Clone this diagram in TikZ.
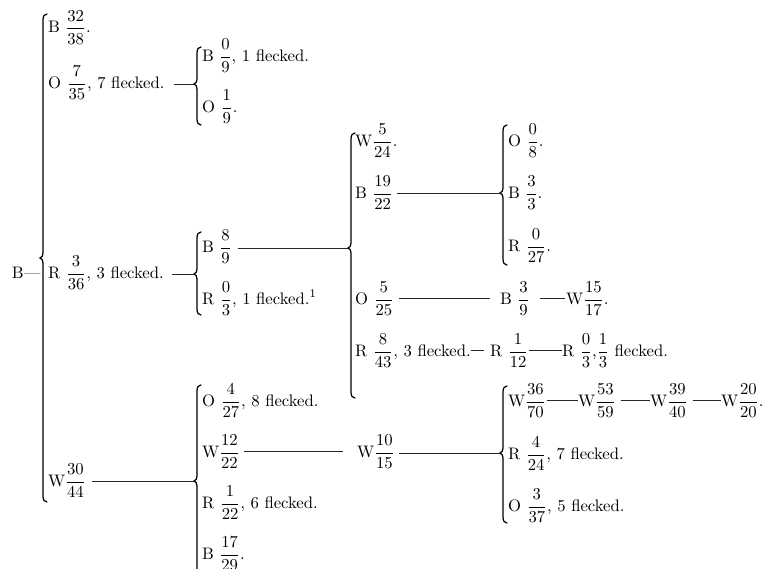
\documentclass[tikz,border=0pt]{standalone}
\usepackage{amsmath}
\tikzset{
  lab/.style={anchor=base west, inner sep=0pt, outer sep=0pt},
  conn/.style={line width=0.45pt, draw=black!85},
  bracestyle/.style={line width=0.75pt, line cap=round},
}
\newcommand{\fr}[2]{$\dfrac{#1}{#2}$}
\newcommand{\curlybrace}[5]{%
  \coordinate (#1) at (#2-3,#4);
  \draw[bracestyle] (#2+4,#3) .. controls (#2+1.5,#3) and (#2,#3+2) .. (#2,#3+6)
    -- (#2,#4-5) .. controls (#2,#4-2) and (#2-1,#4-0.8) .. (#2-3,#4)
    .. controls (#2-1,#4+0.8) and (#2,#4+2) .. (#2,#4+5)
    -- (#2,#5-6) .. controls (#2,#5-2) and (#2+1.5,#5) .. (#2+4,#5);
}
\begin{document}
\begin{tikzpicture}[x=0.6pt,y=-0.6pt]
\useasboundingbox (0,0) rectangle (764,568);
\clip (0,0) rectangle (764,568);
% root
\node[lab] (root) at (12,278) {B\textemdash};
\curlybrace{bR}{43}{14}{258}{502}
% level 1
\node[lab] (b1) at (48,33) {B \fr{32}{38}.};
\node[lab] (o1) at (48,88) {O \fr{7}{35}, 7 flecked.};
\node[lab] (r1) at (48,278) {R \fr{3}{36}, 3 flecked.};
\node[lab] (w1) at (48,486) {W\fr{30}{44}};
% O group
\curlybrace{bO}{197}{47}{84}{125}
\draw[conn] ([xshift=6pt]o1.east |- bO) -- (bO);
\node[lab] (b2) at (202,61) {B \fr{0}{9}, 1 flecked.};
\node[lab] (o2) at (202,112) {O \fr{1}{9}.};
% R group
\curlybrace{bRR}{197}{232}{274}{315}
\draw[conn] ([xshift=5pt]r1.east |- bRR) -- (bRR);
\node[lab] (b3) at (202,252) {B \fr{8}{9}};
\node[lab] (r2) at (202,304) {R \fr{0}{3}, 1 flecked.\textsuperscript{1}};
% W group
\curlybrace{bW}{197}{385}{481}{578}
\draw[conn] ([xshift=3.6pt]w1.east |- bW) -- (bW);
\node[lab] (o3) at (202,406) {O \fr{4}{27}, 8 flecked.};
\node[lab] (w2) at (202,457) {W\fr{12}{22}};
\node[lab] (r3) at (202,508) {R \fr{1}{22}, 6 flecked.};
\node[lab] (b4) at (202,559) {B \fr{17}{29}.};
% B 8/9 group
\curlybrace{bB}{351}{133}{248}{398}
\draw[conn] ([xshift=3.6pt]b3.east |- bB) -- (bB);
\node[lab] (w3) at (355,146) {W\fr{5}{24}.};
\node[lab] (b5) at (355,198) {B \fr{19}{22}};
\node[lab] (o4) at (355,304) {O \fr{5}{25}};
\node[lab] (r4) at (355,356) {R \fr{8}{43}, 3 flecked.};
% B 19/22 group
\curlybrace{bBB}{503}{125}{193}{265}
\draw[conn] ([xshift=2.4pt]b5.east |- bBB) -- (bBB);
\node[lab] (o5) at (508,146) {O \fr{0}{8}.};
\node[lab] (b6) at (508,198) {B \fr{3}{3}.};
\node[lab] (r5) at (508,251) {R \fr{0}{27}.};
% O 5/25 chain
\node[lab] (b7) at (500,304) {B \fr{3}{9}};
\node[lab] (w4) at (566,304) {W\fr{15}{17}.};
\draw[conn] ([xshift=3pt]o4.east) -- ([xshift=-6pt]b7.west);
\draw[conn] ([xshift=6pt]b7.east) -- ([xshift=-0.5pt]w4.west);
% R 8/43 chain
\node[lab] (r6) at (490,356) {R \fr{1}{12}};
\node[lab] (r7) at (562,356) {R \fr{0}{3},\fr{1}{3}\ flecked.};
\draw[conn] (r4.east) -- ([xshift=-3.6pt]r6.west);
\draw[conn] ([xshift=0.5pt]r6.east) -- ([xshift=-0.3pt]r7.west);
% W 12/22 -> W 10/15
\node[lab] (w5) at (357,457) {W\fr{10}{15}};
\draw[conn] ([xshift=2.4pt]w2.east) -- ([xshift=-8.4pt]w5.west);
\curlybrace{bW2}{503}{386}{453}{523}
\draw[conn] ([xshift=2.4pt]w5.east |- bW2) -- (bW2);
\node[lab] (w6) at (508,406) {W\fr{36}{70}};
\node[lab] (w7) at (578,406) {W\fr{53}{59}};
\node[lab] (w8) at (650,406) {W\fr{39}{40}};
\node[lab] (w9) at (721,406) {W\fr{20}{20}.};
\draw[conn] ([xshift=1pt]w6.east) -- ([xshift=-0.3pt]w7.west);
\draw[conn] ([xshift=3pt]w7.east) -- ([xshift=-0.3pt]w8.west);
\draw[conn] ([xshift=3pt]w8.east) -- ([xshift=-0.3pt]w9.west);
\node[lab] (r8) at (508,459) {R \fr{4}{24}, 7 flecked.};
\node[lab] (o6) at (508,511) {O \fr{3}{37}, 5 flecked.};
\end{tikzpicture}
\end{document}
